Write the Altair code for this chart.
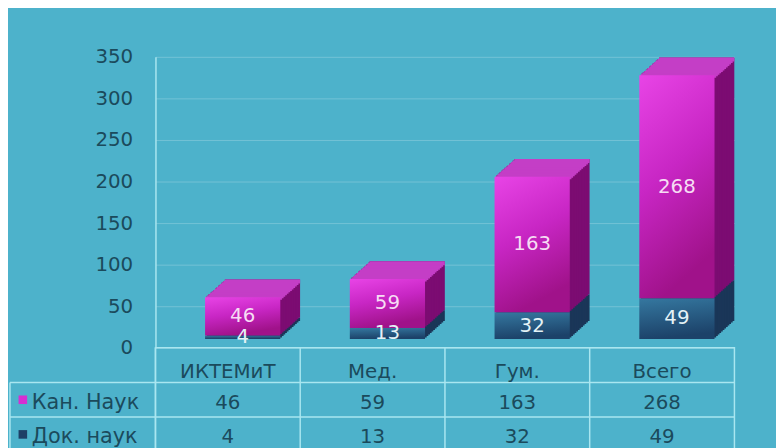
import altair as alt
import pandas as pd

categories = ["ИКТЕМиТ", "Мед.", "Гум.", "Всего"]
kand = [46, 59, 163, 268]
dokt = [4, 13, 32, 49]
series_names = ["Кан. Наук", "Док. наук"]
y_ticks = [0, 50, 100, 150, 200, 250, 300, 350]

W, H = 585, 294
TW, TH = 585, 105
BW = 76
FX, FY = 15, -9          # front face shift (pseudo 3D)
DX, DY = 20, -18         # depth of the boxes
NSTEP = 12
FONT = "DejaVu Sans"
FS = 20
TEXT = "#1b4a5c"
LINE = "#a9e6f0"
BG = "#4db2cb"

df = pd.DataFrame({"cat": categories, "kand": kand, "dokt": dokt})

xenc = alt.X("cat:N", sort=categories,
             scale=alt.Scale(paddingInner=0, paddingOuter=0), axis=None)
yscale = alt.Scale(domain=[0, 350], nice=False, zero=True)

base = alt.Chart(df).transform_calculate(
    total="datum.kand + datum.dokt",
    zero="0",
    kmid="datum.dokt + datum.kand / 2",
    dmid="datum.dokt / 2",
)

layers = []

# axis / grid layer
axis_layer = base.mark_bar(opacity=0, size=1).encode(
    x=xenc,
    y=alt.Y("zero:Q", scale=yscale, title=None,
            axis=alt.Axis(values=y_ticks, labelFontSize=FS, labelColor=TEXT,
                          labelFont=FONT, labelPadding=23, ticks=False,
                          domainColor=LINE, domainWidth=1.5,
                          grid=True, gridColor="#ffffff", gridOpacity=0.22)),
)
layers.append(axis_layer)

# depth copies (back to front): side bodies first, then top caps
for k in range(NSTEP, 0, -1):
    ox = FX + DX * k / NSTEP
    oy = FY + DY * k / NSTEP
    layers.append(base.mark_bar(size=BW, color="#1a3658", xOffset=ox,
                                yOffset=oy, y2Offset=oy).encode(
        x=xenc, y=alt.Y("dokt:Q", scale=yscale), y2="zero:Q"))
    layers.append(base.mark_bar(size=BW, color="#7c0c72", xOffset=ox,
                                yOffset=oy, y2Offset=oy).encode(
        x=xenc, y=alt.Y("total:Q", scale=yscale), y2="dokt:Q"))
for k in range(NSTEP, 0, -1):
    ox = FX + DX * k / NSTEP
    oy = FY + DY * k / NSTEP
    layers.append(base.mark_bar(size=BW, color="#c43ec6", xOffset=ox,
                                yOffset=oy, y2Offset=oy + 4).encode(
        x=xenc, y=alt.Y("total:Q", scale=yscale), y2="total:Q"))

blue_grad = alt.Gradient(gradient="linear", x1=0, y1=0, x2=0.2, y2=1,
                         stops=[alt.GradientStop(color="#3578a0", offset=0),
                                alt.GradientStop(color="#1c4269", offset=1)])
mag_grad = alt.Gradient(gradient="linear", x1=0, y1=0, x2=0.3, y2=1,
                        stops=[alt.GradientStop(color="#e844e6", offset=0),
                               alt.GradientStop(color="#c826c4", offset=0.5),
                               alt.GradientStop(color="#a0128a", offset=1)])

layers.append(base.mark_bar(size=BW, color=blue_grad, xOffset=FX,
                            yOffset=FY, y2Offset=FY).encode(
    x=xenc, y=alt.Y("dokt:Q", scale=yscale), y2="zero:Q"))
layers.append(base.mark_bar(size=BW, color=mag_grad, xOffset=FX,
                            yOffset=FY, y2Offset=FY).encode(
    x=xenc, y=alt.Y("total:Q", scale=yscale), y2="dokt:Q"))

layers.append(base.mark_text(fontSize=FS, font=FONT, color="#f6dcf4",
                             dx=FX, dy=FY).encode(
    x=xenc, y=alt.Y("kmid:Q", scale=yscale), text="kand:Q"))
layers.append(base.mark_text(fontSize=FS, font=FONT, color="#e4f2f6",
                             dx=FX, dy=FY).encode(
    x=xenc, y=alt.Y("dmid:Q", scale=yscale), text="dokt:Q"))

bars = alt.layer(*layers).properties(
    width=W, height=H, view=alt.ViewBackground(stroke="transparent"))

# ---------- data table ----------
rows = ["hdr"] + series_names
hrows, vrows = [], []
for i, c in enumerate(categories):
    hrows.append({"row": "hdr", "cat": c, "txt": c})
    vrows.append({"row": series_names[0], "cat": c, "txt": str(kand[i])})
    vrows.append({"row": series_names[1], "cat": c, "txt": str(dokt[i])})
hdf = pd.DataFrame(hrows)
vdf = pd.DataFrame(vrows)

txenc = alt.X("cat:N", sort=categories,
              scale=alt.Scale(paddingInner=0, paddingOuter=0), axis=None)
tyscale = alt.Scale(domain=rows, paddingInner=0, paddingOuter=0)

head_cells = alt.Chart(hdf).mark_text(fontSize=FS, font=FONT, color=TEXT,
                                      dy=7).encode(
    x=txenc, y=alt.Y("row:N", scale=tyscale, axis=None), text="txt:N")
val_cells = alt.Chart(vdf).mark_text(fontSize=FS, font=FONT, color=TEXT,
                                     dy=3).encode(
    x=txenc, y=alt.Y("row:N", scale=tyscale, axis=None), text="txt:N")

sdf = pd.DataFrame({"row": series_names})
row_labels = alt.Chart(sdf).mark_text(fontSize=21, font=FONT, color=TEXT,
                                      align="left", dy=3).encode(
    x=alt.value(-125), y=alt.Y("row:N", scale=tyscale, axis=None), text="row:N")
squares = alt.Chart(sdf).mark_square(size=75, opacity=1).encode(
    x=alt.value(-134), y=alt.Y("row:N", scale=tyscale, axis=None),
    color=alt.Color("row:N", scale=alt.Scale(domain=series_names,
                                             range=["#d62fd2", "#1e3f66"]),
                    legend=None))
hrules = alt.Chart(sdf).mark_rule(color=LINE, strokeWidth=1.5).encode(
    y=alt.Y("row:N", scale=tyscale, axis=None, bandPosition=0),
    x=alt.value(-147), x2=alt.value(TW))
cdf = pd.DataFrame({"cat": categories})
vrules = alt.Chart(cdf).mark_rule(color=LINE, strokeWidth=1.5).encode(
    x=alt.X("cat:N", sort=categories,
            scale=alt.Scale(paddingInner=0, paddingOuter=0), axis=None,
            bandPosition=0),
    y=alt.value(0), y2=alt.value(TH))
ldf = pd.DataFrame({"row": [series_names[0]]})
lrule = alt.Chart(ldf).mark_rule(color=LINE, strokeWidth=1.5).encode(
    x=alt.value(-147),
    y=alt.Y("row:N", scale=tyscale, axis=None, bandPosition=0),
    y2=alt.value(TH))

table = alt.layer(hrules, vrules, lrule, head_cells, val_cells, row_labels,
                  squares).properties(
    width=TW, height=TH,
    view=alt.ViewBackground(stroke=LINE, strokeWidth=1.5))

chart = alt.vconcat(bars, table, spacing=0, bounds="flush").properties(
    background=BG,
    padding={"left": 0, "top": 36, "right": 40, "bottom": 0},
).configure_view(stroke="transparent")

chart.save("out.html", embed_options={"renderer": "svg", "actions": False})
